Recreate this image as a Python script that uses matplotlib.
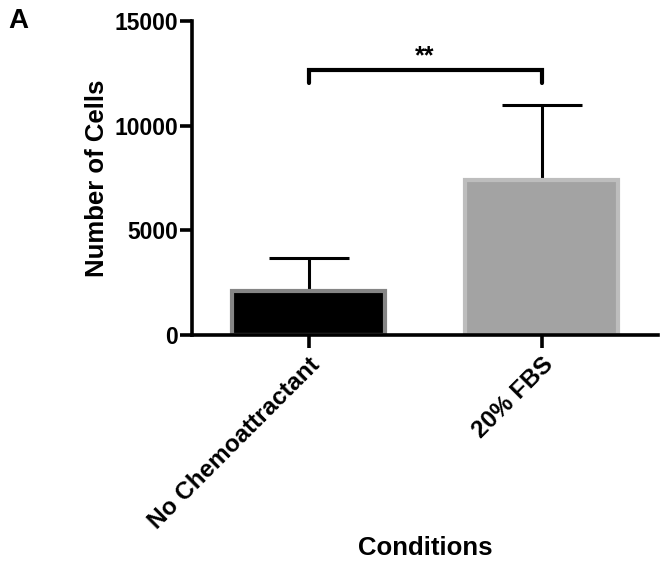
import matplotlib
matplotlib.use("Agg")
import matplotlib.pyplot as plt

plt.rcParams["font.family"] = ["Liberation Sans", "DejaVu Sans"]
plt.rcParams["font.weight"] = "bold"

conditions = ["No Chemoattractant", "20% FBS"]
means = [2100, 7400]
sems = [1600, 3600]
fill_colors = ["#000000", "#a3a3a3"]
edge_colors = ["#858585", "#bdbdbd"]
sig_label = "**"
sig_low = 12050
sig_high = 12670

fig = plt.figure(figsize=(6.6, 5.65), dpi=100)
ax = fig.add_axes([0.291, 0.407, 0.706, 0.556])

x = list(range(len(conditions)))
ax.errorbar(x, means, yerr=[[0] * len(sems), sems], fmt="none",
            ecolor="black", elinewidth=2.2, capsize=29, capthick=2.2, zorder=1)
ax.bar(x, means, width=0.66, color=fill_colors, edgecolor=edge_colors,
       linewidth=3, zorder=2)

# significance bracket
ax.plot([0, 0, 1, 1], [sig_low, sig_high, sig_high, sig_low], color="black",
        lw=3, solid_capstyle="round", solid_joinstyle="miter", clip_on=False)
ax.text(0.5, sig_high + 60, sig_label, ha="center", va="bottom",
        fontsize=18, fontweight="bold")

ax.set_xlim(-0.5, 1.5)
ax.set_ylim(0, 15000)
ax.set_yticks([0, 5000, 10000, 15000])
ax.set_xticks(x)
ax.set_xticklabels(conditions, rotation=45, ha="right", rotation_mode="anchor",
                   fontsize=17.5)
ax.tick_params(axis="x", pad=4)

for s in ["top", "right"]:
    ax.spines[s].set_visible(False)
for s in ["left", "bottom"]:
    ax.spines[s].set_linewidth(2.6)
ax.tick_params(width=2.6, length=9)
ax.tick_params(axis="y", labelsize=16.5, pad=1)

ax.set_ylabel("Number of Cells", fontsize=18.5, fontweight="bold", labelpad=4)
ax.set_xlabel("Conditions", fontsize=18.5, fontweight="bold")
ax.xaxis.set_label_coords(0.5, -0.64)

fig.text(0.012, 0.985, "A", fontsize=20, fontweight="bold", va="top")

fig.savefig("out.png", dpi=100)
